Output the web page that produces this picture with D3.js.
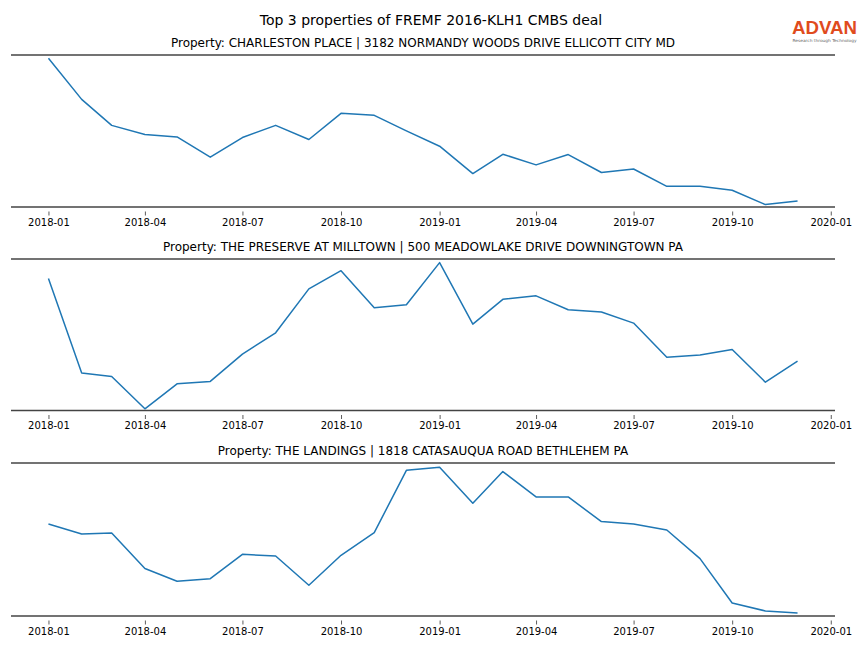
<!DOCTYPE html>
<html><head><meta charset="utf-8">
<script src="https://cdn.jsdelivr.net/npm/d3@7"></script>
<style>body{margin:0;background:#fff}svg{display:block;font-family:"DejaVu Sans",sans-serif}</style>
</head><body><svg id="c" width="864" height="648"></svg>
<script>
const months = ["2018-01","2018-02","2018-03","2018-04","2018-05","2018-06","2018-07","2018-08","2018-09","2018-10","2018-11","2018-12",
"2019-01","2019-02","2019-03","2019-04","2019-05","2019-06","2019-07","2019-08","2019-09","2019-10","2019-11","2019-12"];
const tickLabels = ["2018-01","2018-04","2018-07","2018-10","2019-01","2019-04","2019-07","2019-10","2020-01"];
const mainTitle = "Top 3 properties of FREMF 2016-KLH1 CMBS deal";
const titles = ["Property: CHARLESTON PLACE | 3182 NORMANDY WOODS DRIVE ELLICOTT CITY MD",
"Property: THE PRESERVE AT MILLTOWN | 500 MEADOWLAKE DRIVE DOWNINGTOWN PA",
"Property: THE LANDINGS | 1818 CATASAUQUA ROAD BETHLEHEM PA"];
const charleston = [97.8,70.8,53.7,47.7,46.1,32.8,45.7,53.7,44.4,61.6,60.3,50.1,40.0,22.0,34.7,27.7,34.5,22.7,25.0,13.6,13.6,11.0,1.6,4.0];
const preserve = [87.2,24.7,22.5,1.1,17.6,19.2,37.2,51.3,80.3,92.3,67.8,69.8,97.6,57.0,73.4,75.7,66.5,65.0,57.7,35.2,36.7,40.3,18.7,32.6];
const landings = [60.1,53.6,54.2,31.0,22.7,24.4,40.3,39.2,20.1,39.7,54.5,95.2,97.2,73.7,94.4,77.8,77.8,61.7,60.1,56.2,37.5,8.5,3.3,2.0];
const seriesList = [charleston, preserve, landings];

const svg = d3.select("#c");
const parse = d3.timeParse("%Y-%m");
const dates = months.map(parse);
const tickDates = tickLabels.map(parse);
const span = dates[dates.length-1] - dates[0];
const x = d3.scaleTime()
  .domain([new Date(+dates[0] - span*0.05), new Date(+dates[dates.length-1] + span*0.05)])
  .range([11, 835]);

svg.append("text").attr("x", 431).attr("y", 25).attr("text-anchor","middle")
  .attr("font-size", 14).attr("fill","#000").text(mainTitle);

// logo
svg.append("text").attr("x", 824.5).attr("y", 34).attr("text-anchor","middle")
  .attr("font-size", 18).attr("font-weight","bold").attr("font-family","'Liberation Sans',Arial,sans-serif")
  .attr("fill","#e04b1d").attr("textLength", 65).attr("lengthAdjust","spacingAndGlyphs").text("ADVAN");
svg.append("text").attr("x", 824.5).attr("y", 41.5).attr("text-anchor","middle")
  .attr("font-size", 4).attr("fill","#666").attr("textLength", 64).attr("lengthAdjust","spacingAndGlyphs")
  .text("Research through Technology");

const panels = [{top:55,bottom:207},{top:259,bottom:410.5},{top:463,bottom:616}];
panels.forEach((p,i)=>{
  const y = d3.scaleLinear().domain([0,100]).range([p.bottom, p.top]);
  const g = svg.append("g");
  g.append("text").attr("x", 423).attr("y", p.top-8).attr("text-anchor","middle")
    .attr("font-size", 12).attr("fill","#000").text(titles[i]);
  const line = d3.line().x((d,k)=>x(dates[k])).y(d=>y(d));
  g.append("path").datum(seriesList[i]).attr("d", line).attr("fill","none")
    .attr("stroke","#1f77b4").attr("stroke-width",1.5).attr("stroke-linejoin","round");
  [p.top,p.bottom].forEach(v=>{
    g.append("line").attr("x1",11).attr("x2",835).attr("y1",v).attr("y2",v)
      .attr("stroke","#444").attr("stroke-width",1.6);
  });
  const ax = g.append("g").attr("transform",`translate(0,${p.bottom+4.5})`)
    .call(d3.axisBottom(x).tickValues(tickDates).tickFormat(d3.timeFormat("%Y-%m")).tickSize(4).tickPadding(3));
  ax.select(".domain").remove();
  ax.selectAll(".tick line").attr("stroke","#333").attr("stroke-width",0.8);
  ax.selectAll(".tick text").attr("font-size",10).attr("fill","#000").attr("font-family","'DejaVu Sans',sans-serif");
});
</script></body></html>
